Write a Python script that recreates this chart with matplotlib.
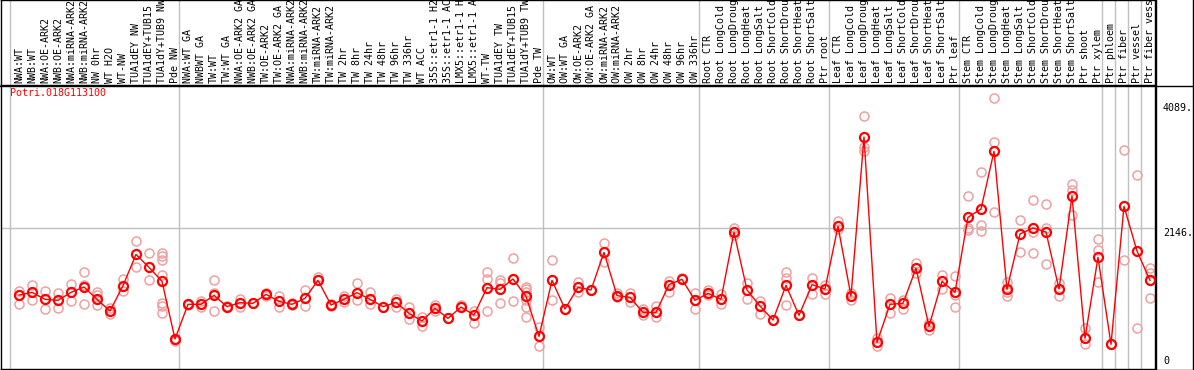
import matplotlib
matplotlib.use('Agg')
import matplotlib.pyplot as plt
from matplotlib.lines import Line2D
import matplotlib.transforms as mtransforms

# ========== DATA ==========
GENE = "Potri.018G113100"

samples = [
    "NWA:WT", "NWB:WT", "NWA:OE-ARK2", "NWB:OE-ARK2", "NWA:miRNA-ARK2", "NWB:miRNA-ARK2",
    "NW 0hr", "WT H2O", "WT-NW", "TUA1dEY NW", "TUA1dEY+TUB15 NW", "TUA1dY+TUB9 NW", "Pde NW",
    "NWA:WT GA", "NWBWT GA", "TW:WT", "TW:WT GA", "NWA:OE-ARK2 GA", "NWB:OE-ARK2 GA",
    "TW:OE-ARK2", "TW:OE-ARK2 GA", "NWA:miRNA-ARK2 GA", "NWB:miRNA-ARK2 GA", "TW:miRNA-ARK2",
    "TW:miRNA-ARK2 GA", "TW 2hr", "TW 8hr", "TW 24hr", "TW 48hr", "TW 96hr", "TW 336hr",
    "WT ACC", "35S::etr1-1 H2O", "35S::etr1-1 ACC", "LMX5::etr1-1 H2O", "LMX5::etr1-1 ACC",
    "WT-TW", "TUA1dEY TW", "TUA1dEY+TUB15 TW", "TUA1dY+TUB9 TW", "Pde TW",
    "OW:WT", "OW:WT GA", "OW:OE-ARK2", "OW:OE-ARK2 GA", "OW:miRNA-ARK2", "OW:miRNA-ARK2 GA",
    "OW 2hr", "OW 8hr", "OW 24hr", "OW 48hr", "OW 96hr", "OW 336hr",
    "Root CTR", "Root LongCold", "Root LongDrought", "Root LongHeat", "Root LongSalt",
    "Root ShortCold", "Root ShortDrought", "Root ShortHeat", "Root ShortSalt", "Ptr root",
    "Leaf CTR", "Leaf LongCold", "Leaf LongDrought", "Leaf LongHeat", "Leaf LongSalt",
    "Leaf ShortCold", "Leaf ShortDrought", "Leaf ShortHeat", "Leaf ShortSalt", "Ptr leaf",
    "Stem CTR", "Stem LongCold", "Stem LongDrought", "Stem LongHeat", "Stem LongSalt",
    "Stem ShortCold", "Stem ShortDrought", "Stem ShortHeat", "Stem ShortSalt",
    "Ptr shoot", "Ptr xylem", "Ptr phloem", "Ptr fiber", "Ptr vessel", "Ptr fiber vessel",
]

# index of first sample in each group (group separators)
group_starts = [0, 13, 41, 53, 63, 73, 84, 85, 86, 87, 88]

means = [
    1104, 1145, 1037, 1021, 1145, 1228, 1037, 855, 1249, 1736, 1534, 1317, 420,
    959, 959, 1099, 923, 985, 974, 1114, 1006, 959, 1052, 1332, 949, 1037, 1140, 1037,
    923, 990, 819, 700, 897, 741, 917, 793, 1218, 1192, 1353, 1083, 461,
    1332, 886, 1223, 1182, 1767, 1094, 1068, 834, 834, 1265, 1348, 1021,
    1130, 1037, 2078, 1182, 933, 715, 1254, 788, 1265, 1197,
    2172, 1088, 3561, 368, 959, 974, 1519, 617, 1317, 1145,
    2312, 2441, 3338, 1192, 2053, 2146, 2084, 1197, 2643, 430, 1690,
    337, 2483, 1788, 1332,
]

replicates = [
    [1171, 959, 1104], [1260, 1031], [1161, 881], [1130, 907], [1270, 1011],
    [1462, 1265, 964], [1151, 1104, 943], [897, 809], [1348, 1171], [1944, 1545],
    [1757, 1332], [1762, 1716, 1648, 1415, 985, 933, 829], [420, 394],
    [959, 950], [1011, 923], [1332, 1135, 855], [933, 912], [1042, 923], [974],
    [1135, 1094], [1094, 917], [974, 950], [1177, 933], [1384], [969, 933],
    [1088, 995], [1285, 1026], [1151, 969], [923], [1042, 912], [912, 731],
    [762, 622], [949, 860], [741], [949], [860, 663], [1462, 1348, 855],
    [1337, 1296, 974], [1674, 1011], [1223, 1192, 1156, 1026, 923, 757], [606, 306],
    [1643, 1021], [886], [1306, 1145], [1182], [1907, 1622], [1130, 1068],
    [1135, 1000], [881, 793], [933, 767], [1327, 1156], [1363], [1130, 891],
    [1182, 1099], [1120, 969], [2151, 2037], [1285, 1037], [1011, 803], [715],
    [1462, 1374, 949], [788], [1368, 1114], [1260, 1125],
    [2255, 2125], [1130, 1026], [3882, 3411, 3348], [430, 311], [1052, 829],
    [1026, 886], [1602, 1441], [663, 565], [1410, 1203], [1394, 1109, 912],
    [2638, 2151, 2120], [3017, 2193, 2099], [4162, 3478, 2389], [1301, 1151, 1094],
    [2265, 1778], [2581, 1752, 2089], [2514, 2151, 1586], [1285, 1094],
    [2830, 2737, 2348], [586, 337], [1975, 1804, 1301],
    [337], [3354, 1643], [2965, 586], [1524, 1451, 1052],
]

ytick_values = [4089, 2146, 0]
ytick_labels = ["4089.", "2146.", "0"]

# ========== CONFIGURATION ==========
W, H = 1194, 370
DPI = 100
FONT = "DejaVu Sans Mono"
FS = 7.2
RED = "#ff0000"
PINK = "#f0a0a0"
GRID = "#c0c0c0"

# pixel layout
PLOT_LEFT, PLOT_RIGHT = 1, 1155
PLOT_TOP, PLOT_BOTTOM = 85, 369
STEP = 13          # px per sample
FIRST_X = 19       # px of first sample
ZERO_Y = 366       # px of value 0
GRID_Y = 228       # px of value 2146


def draw(out_file):
    fig = plt.figure(figsize=(W / DPI, H / DPI), dpi=DPI)
    fig.patch.set_facecolor("white")

    ax = fig.add_axes([PLOT_LEFT / W, 1 - PLOT_BOTTOM / H,
                       (PLOT_RIGHT - PLOT_LEFT) / W, (PLOT_BOTTOM - PLOT_TOP) / H])
    hax = fig.add_axes([PLOT_LEFT / W, 1 - PLOT_TOP / H,
                        (PLOT_RIGHT - PLOT_LEFT) / W, PLOT_TOP / H])

    # x scale: sample index, y scale: expression value
    xmin = (PLOT_LEFT - FIRST_X) / STEP
    xmax = xmin + (PLOT_RIGHT - PLOT_LEFT) / STEP
    scale = (ZERO_Y - GRID_Y) / 2146.0
    ymin = (ZERO_Y - PLOT_BOTTOM) / scale
    ymax = (ZERO_Y - PLOT_TOP) / scale
    for a in (ax, hax):
        a.set_xlim(xmin, xmax)
        a.set_xticks([])
        a.set_yticks([])
        for s in a.spines.values():
            s.set_color("black")
            s.set_linewidth(1)
    ax.set_ylim(ymin, ymax)
    hax.set_ylim(0, 1)

    # group separators
    for k in group_starts[:-1]:
        xs = k - (FIRST_X - 10) / STEP
        ax.axvline(xs, color=GRID, lw=1, zorder=0)
        hax.axvline(xs, color=GRID, lw=1, zorder=0)
    ax.axhline(ytick_values[1], color=GRID, lw=1, zorder=0)

    x = list(range(len(means)))

    # replicates
    for i, reps in enumerate(replicates):
        ax.plot([i] * len(reps), reps, ls="none", marker="o", ms=6.5,
                mfc="none", mec=PINK, mew=1.1, zorder=2)

    # mean line
    ax.plot(x, means, color=RED, lw=1, marker="o", ms=6.5, mfc="none",
            mec=RED, mew=1.6, zorder=3)

    # gene name
    ax.text(9 / (PLOT_RIGHT - PLOT_LEFT), 1 - 8 / (PLOT_BOTTOM - PLOT_TOP), GENE,
            transform=ax.transAxes, ha="left", va="center", color=RED,
            family=FONT, fontsize=FS)

    # sample labels (rotated, reading upward)
    for i, name in enumerate(samples):
        hax.text(i, 2 / PLOT_TOP, name, rotation=90, ha="center", va="bottom",
                 family=FONT, fontsize=FS, color="black", clip_on=False)

    # value labels at right
    trans = mtransforms.blended_transform_factory(fig.transFigure, ax.transData)
    for v, lab in zip(ytick_values, ytick_labels):
        ax.text(1163 / W, v, lab, transform=trans, ha="left",
                va="bottom" if v == 0 else "top",
                family=FONT, fontsize=FS, color="black", clip_on=False)

    # outer frame lines
    def hline(ypx, x0, x1):
        fig.add_artist(Line2D([x0 / W, x1 / W], [1 - ypx / H, 1 - ypx / H],
                              transform=fig.transFigure, color="black", lw=1))

    def vline(xpx, y0, y1):
        fig.add_artist(Line2D([xpx / W, xpx / W], [1 - y0 / H, 1 - y1 / H],
                              transform=fig.transFigure, color="black", lw=1))

    hline(PLOT_TOP + 0.5, 0, W)
    hline(PLOT_BOTTOM + 0.5, 0, W)
    vline(W - 1, 0, H)
    vline(PLOT_RIGHT + 0.5, 0, H)

    fig.savefig(out_file, dpi=DPI)
    plt.close(fig)


def main():
    draw("out.png")


if __name__ == "__main__":
    main()
